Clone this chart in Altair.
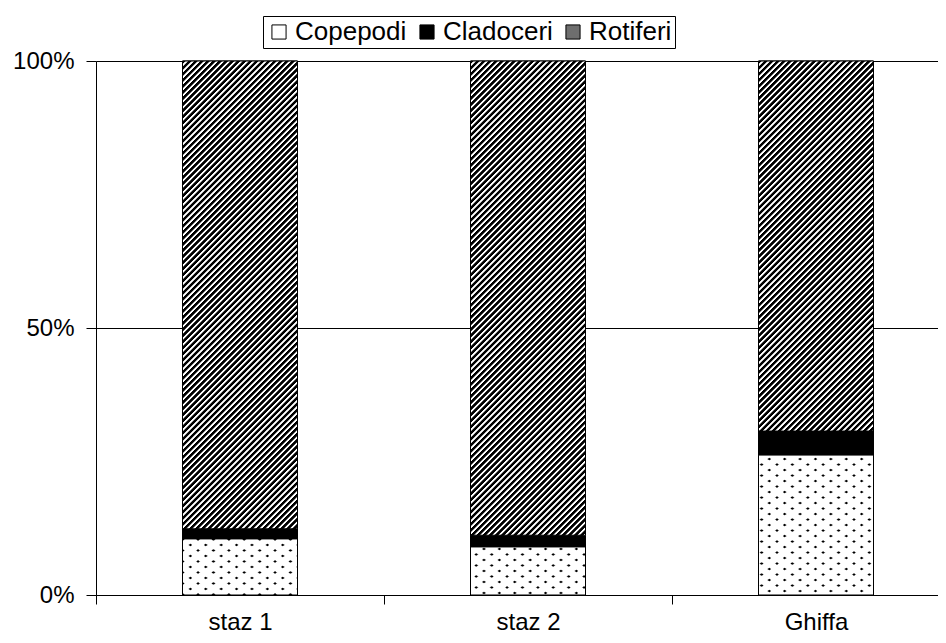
import math
import altair as alt
import pandas as pd

stations = ["staz 1", "staz 2", "Ghiffa"]
species = ["Copepodi", "Cladoceri", "Rotiferi"]
copepodi = [10.5, 9.0, 26.2]
cladoceri = [1.9, 2.2, 4.5]
rotiferi = [87.6, 88.8, 69.3]
y_ticks = [0, 50, 100]

PLOT_W, BAND_SPAN, PLOT_H, BAR_W = 842, 864, 534, 115

rows = []
for i, st in enumerate(stations):
    for j, (sp, vals) in enumerate(zip(species, [copepodi, cladoceri, rotiferi])):
        rows.append({"station": st, "species": sp, "value": vals[i], "order": j})
df = pd.DataFrame(rows)


def stripe_gradient(w, h, a, b, period, pattern):
    n = math.hypot(a, b)
    a, b = a / n, b / n
    x1 = 0.0 if a >= 0 else 1.0
    y1 = 0.0 if b >= 0 else 1.0
    R = abs(a) * w + abs(b) * h
    S = a * a * w * w + b * b * h * h
    k = R / S
    x2 = x1 + a * w * k
    y2 = y1 + b * h * k
    stops = []
    nper = int(math.ceil(R / period)) + 1
    for i in range(nper):
        for off, col in pattern:
            t = (i + off) * period / R
            if t <= 1.0:
                stops.append({"offset": round(t, 5), "color": col})
    return {"gradient": "linear", "x1": x1, "y1": y1, "x2": x2, "y2": y2, "stops": stops}


HATCH = [(0.0, "#000000"), (0.45, "#000000"), (0.6, "#ffffff"), (0.88, "#ffffff")]
LINES = [(0.0, "#000000"), (0.12, "#000000"), (0.24, "#ffffff"), (0.88, "#ffffff")]
MASK = [(0.0, "rgba(255,255,255,0)"), (0.12, "rgba(255,255,255,0)"), (0.24, "#ffffff"), (0.88, "#ffffff")]

base = alt.Chart(df).transform_stack(
    stack="value", groupby=["station"], as_=["v0", "v1"],
    sort=[alt.SortField("order", order="ascending")],
)

x_enc = alt.X(
    "station:N",
    sort=stations,
    scale=alt.Scale(type="band", range=[0, BAND_SPAN], paddingInner=0, paddingOuter=0),
    axis=alt.Axis(
        title=None, labelAngle=0, labelFontSize=24, labelFont="Liberation Sans",
        labelColor="black", tickBand="extent", tickSize=9, tickColor="black",
        domainColor="black", labelPadding=6, grid=False,
    ),
)
y_enc = alt.Y(
    "v0:Q",
    scale=alt.Scale(domain=[0, 100], nice=False),
    axis=alt.Axis(
        title=None, values=y_ticks, labelExpr="datum.value + '%'", labelFontSize=24,
        labelFont="Liberation Sans", labelColor="black", tickSize=10, tickColor="black",
        domainColor="black", gridColor="black", gridOpacity=1, labelPadding=12,
    ),
)

main = base.mark_bar(size=BAR_W, stroke="black", strokeWidth=1).encode(
    x=x_enc,
    y=y_enc,
    y2="v1:Q",
    color=alt.Color(
        "species:N",
        scale=alt.Scale(domain=species, range=["#ffffff", "#000000", "#6e6e6e"]),
        legend=alt.Legend(
            title=None, orient="none", legendX=167, legendY=-45, direction="horizontal",
            labelFontSize=26, labelFont="Liberation Sans", labelColor="black",
            symbolType="square", symbolSize=200, symbolStrokeColor="black",
            symbolStrokeWidth=1, strokeColor="black", fillColor="white", padding=3,
            columnPadding=7, labelOffset=3, symbolOpacity=1,
        ),
    ),
)

layers = [main]
for i, st in enumerate(stations):
    h_cop = copepodi[i] * PLOT_H / 100
    h_rot = rotiferi[i] * PLOT_H / 100
    g_lines = stripe_gradient(BAR_W, h_cop, 5.5, -7.7, 8.95, LINES)
    g_mask = stripe_gradient(BAR_W, h_cop, 5.5, 7.7, 8.95, MASK)
    g_hatch = stripe_gradient(BAR_W, h_rot, 1, 1, 4.3, HATCH)
    sel_c = (alt.datum.station == st) & (alt.datum.species == "Copepodi")
    sel_r = (alt.datum.station == st) & (alt.datum.species == "Rotiferi")
    layers.append(
        base.transform_filter(sel_c).mark_bar(size=BAR_W, fill=g_lines, strokeWidth=0)
        .encode(x=alt.X("station:N", sort=stations), y="v0:Q", y2="v1:Q")
    )
    layers.append(
        base.transform_filter(sel_c).mark_bar(size=BAR_W, fill=g_mask, stroke="black", strokeWidth=1)
        .encode(x=alt.X("station:N", sort=stations), y="v0:Q", y2="v1:Q")
    )
    layers.append(
        base.transform_filter(sel_r).mark_bar(size=BAR_W, fill=g_hatch, stroke="black", strokeWidth=1)
        .encode(x=alt.X("station:N", sort=stations), y="v0:Q", y2="v1:Q")
    )

chart = alt.layer(*layers).properties(
    width=PLOT_W, height=PLOT_H,
    autosize=alt.AutoSizeParams(type="none"),
    padding={"left": 88, "top": 53, "right": 0, "bottom": 40},
    background="white",
).configure_view(stroke=None)

chart.save("out.html", embed_options={"renderer": "svg", "actions": False})
